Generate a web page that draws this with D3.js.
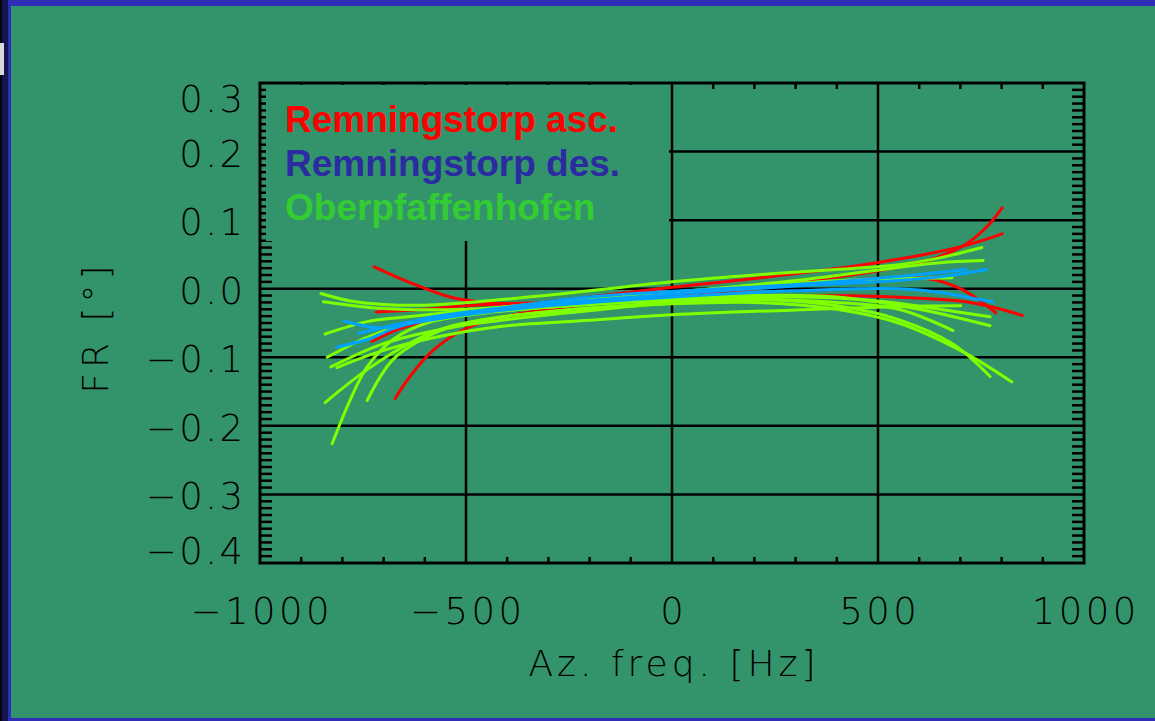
<!DOCTYPE html>
<html>
<head>
<meta charset="utf-8">
<script src="https://cdn.jsdelivr.net/npm/d3@7"></script>
<style>
  html, body { margin: 0; padding: 0; overflow: hidden; background: #2e2eb6; }
  svg { display: block; }
</style>
</head>
<body>
<svg id="chart" width="1155" height="721"></svg>
<script>
// Axis ticks
const xTicks = [-1000, -500, 0, 500, 1000];
const yTicks = [0.3, 0.2, 0.1, 0.0, -0.1, -0.2, -0.3, -0.4];
const xMinorStep = 100;
const yMinorStep = 0.01;

// Legend
const seriesNames = ["Remningstorp asc.", "Remningstorp des.", "Oberpfaffenhofen"];

// Residual curves, [azimuth frequency in Hz, FR in degrees]
const ascCurves = [
  [[-672,-0.160],[-636,-0.128],[-580,-0.090],[-500,-0.058],[-400,-0.040],[-200,-0.022],[0,-0.008],[200,0.005],[400,0.017],[536,0.030],[640,0.045],[716,0.066],[770,0.094],[801,0.118]],
  [[-723,0.032],[-636,0.009],[-539,-0.012],[-450,-0.020],[-300,-0.022],[-100,-0.016],[100,-0.006],[300,0.006],[500,0.014],[619,0.015],[700,0.000],[786,-0.035]],
  [[-718,-0.034],[-600,-0.030],[-498,-0.025],[-300,-0.020],[0,-0.014],[300,-0.010],[536,-0.012],[699,-0.018],[780,-0.027],[850,-0.039]],
  [[-728,-0.077],[-660,-0.058],[-560,-0.043],[-400,-0.027],[-200,-0.012],[0,0.002],[200,0.015],[498,0.038],[699,0.061],[801,0.080]]
];
const desCurves = [
  [[-796,-0.047],[-701,-0.057],[-580,-0.041],[-417,-0.028],[-200,-0.012],[0,-0.004],[300,0.006],[536,0.017],[714,0.028]],
  [[-813,-0.085],[-740,-0.074],[-660,-0.055],[-500,-0.038],[-300,-0.025],[0,-0.012],[300,-0.003],[550,0.000],[650,-0.005],[740,-0.015],[779,-0.019]],
  [[-760,-0.065],[-650,-0.050],[-500,-0.035],[-300,-0.022],[0,-0.008],[300,0.004],[550,0.012],[660,0.018],[764,0.028]]
];
const oberCurves = [
  [[-852,-0.007],[-780,-0.018],[-700,-0.023],[-600,-0.024],[-400,-0.015],[-200,-0.003],[0,0.010],[200,0.020],[400,0.028],[550,0.035],[650,0.045],[752,0.060]],
  [[-846,-0.019],[-700,-0.029],[-500,-0.030],[-300,-0.022],[0,-0.006],[300,0.012],[536,0.030],[650,0.038],[755,0.041]],
  [[-842,-0.066],[-740,-0.048],[-660,-0.042],[-500,-0.032],[-300,-0.020],[0,-0.005],[300,0.008],[500,0.014],[680,0.016]],
  [[-837,-0.100],[-740,-0.071],[-636,-0.050],[-500,-0.037],[-300,-0.027],[0,-0.015],[200,-0.010],[400,-0.012],[600,-0.030],[772,-0.054]],
  [[-828,-0.114],[-700,-0.080],[-550,-0.058],[-400,-0.045],[-200,-0.032],[0,-0.020],[300,-0.012],[500,-0.018],[650,-0.030],[772,-0.041]],
  [[-813,-0.115],[-700,-0.090],[-550,-0.068],[-417,-0.055],[-200,-0.046],[0,-0.038],[300,-0.031],[553,-0.026],[701,-0.025]],
  [[-842,-0.166],[-740,-0.118],[-619,-0.074],[-539,-0.055],[-400,-0.040],[-200,-0.030],[0,-0.022],[200,-0.020],[400,-0.030],[550,-0.050],[700,-0.090],[825,-0.136]],
  [[-825,-0.226],[-781,-0.162],[-740,-0.114],[-677,-0.074],[-595,-0.050],[-450,-0.035],[-250,-0.025],[0,-0.017],[200,-0.015],[400,-0.025],[550,-0.045],[680,-0.080],[772,-0.128]],
  [[-740,-0.163],[-677,-0.103],[-595,-0.070],[-532,-0.055],[-400,-0.040],[-200,-0.028],[0,-0.020],[200,-0.016],[400,-0.020],[550,-0.030],[682,-0.061]]
];

const W = 1155, H = 721;
const plot = { left: 260, right: 1084, top: 83, bottom: 563 };
const bg = "#33946b";
const axisFont = "'DejaVu Sans', sans-serif";

const svg = d3.select("#chart");

// Slide frame: dark strip at the far left, blue border, green panel
svg.append("rect").attr("x", 0).attr("y", 0).attr("width", W).attr("height", H).attr("fill", "#2e2eb6");
svg.append("rect").attr("x", 0).attr("y", 0).attr("width", 8).attr("height", H).attr("fill", "#141450");
svg.append("rect").attr("x", 0).attr("y", 0).attr("width", 2).attr("height", H).attr("fill", "#050510");
svg.append("rect").attr("x", 0).attr("y", 43).attr("width", 4).attr("height", 32).attr("fill", "#d8d8d8");
svg.append("rect").attr("x", 11).attr("y", 6).attr("width", W - 11).attr("height", H - 9).attr("fill", bg);

const x = d3.scaleLinear().domain([-1000, 1000]).range([plot.left, plot.right]);
const y = d3.scaleLinear().domain([-0.4, 0.3]).range([plot.bottom, plot.top]);

const g = svg.append("g");

// Full-length major ticks (grid)
g.append("g").selectAll("line").data(xTicks.slice(1, -1)).join("line")
  .attr("x1", d => x(d)).attr("x2", d => x(d))
  .attr("y1", plot.top).attr("y2", plot.bottom)
  .attr("stroke", "#000").attr("stroke-width", 2.5);
g.append("g").selectAll("line").data(yTicks.slice(1, -1)).join("line")
  .attr("x1", plot.left).attr("x2", plot.right)
  .attr("y1", d => y(d)).attr("y2", d => y(d))
  .attr("stroke", "#000").attr("stroke-width", 2.5);

// Minor ticks
const xMinor = d3.range(-1000, 1000 + 1, xMinorStep).filter(v => v % 500 !== 0);
const yMinor = d3.range(-40, 31).map(v => v * yMinorStep).filter(v => Math.round(v * 100) % 10 !== 0);
const minor = g.append("g").attr("stroke", "#000").attr("stroke-width", 2.5);
xMinor.forEach(v => {
  minor.append("line").attr("x1", x(v)).attr("x2", x(v)).attr("y1", plot.bottom).attr("y2", plot.bottom - 6);
  minor.append("line").attr("x1", x(v)).attr("x2", x(v)).attr("y1", plot.top).attr("y2", plot.top + 6);
});
yMinor.forEach(v => {
  minor.append("line").attr("x1", plot.left).attr("x2", plot.left + 12).attr("y1", y(v)).attr("y2", y(v));
  minor.append("line").attr("x1", plot.right).attr("x2", plot.right - 12).attr("y1", y(v)).attr("y2", y(v));
});

// Legend panel clears the grid underneath it
svg.append("rect")
  .attr("x", plot.left + 6).attr("y", plot.top + 2)
  .attr("width", x(0) - 3 - (plot.left + 6)).attr("height", 241 - (plot.top + 2))
  .attr("fill", bg);

// Curves
const line = d3.line().x(d => x(d[0])).y(d => y(d[1])).curve(d3.curveCatmullRom.alpha(0.5));
const curveLayer = svg.append("g").attr("fill", "none").attr("stroke-width", 3).attr("stroke-linecap", "round");
[[ascCurves, "#ff0000"], [oberCurves, "#80ff00"], [desCurves, "#00a2ff"]].forEach(([set, col]) => {
  curveLayer.append("g").selectAll("path").data(set).join("path")
    .attr("d", line).attr("stroke", col);
});

// Plot frame
svg.append("rect")
  .attr("x", plot.left).attr("y", plot.top)
  .attr("width", plot.right - plot.left).attr("height", plot.bottom - plot.top)
  .attr("fill", "none").attr("stroke", "#000").attr("stroke-width", 3);

// Tick labels
const fmtY = d => (d < -1e-9 ? "\u2212" : "") + Math.abs(d).toFixed(1);
const fmtX = d => (d < 0 ? "\u2212" : "") + Math.abs(d);
svg.append("g").selectAll("text").data(yTicks).join("text")
  .attr("x", 245.5)
  .attr("y", d => Math.min(Math.max(y(d) + 15, plot.top + 29), plot.bottom + 1))
  .attr("text-anchor", "end")
  .attr("font-family", axisFont).attr("font-size", 37).attr("font-weight", 200)
  .attr("letter-spacing", 2.5)
  .attr("fill", "#000")
  .text(fmtY);
svg.append("g").selectAll("text").data(xTicks).join("text")
  .attr("x", d => x(d) + 1.75).attr("y", 624)
  .attr("text-anchor", "middle")
  .attr("font-family", axisFont).attr("font-size", 37).attr("font-weight", 200)
  .attr("letter-spacing", 3.5)
  .attr("fill", "#000")
  .text(fmtX);

// Axis titles
svg.append("text")
  .attr("x", x(0) + 2).attr("y", 676)
  .attr("text-anchor", "middle")
  .attr("font-family", axisFont).attr("font-size", 36).attr("font-weight", 200)
  .attr("letter-spacing", 4)
  .attr("fill", "#000")
  .text("Az. freq. [Hz]");
svg.append("text")
  .attr("transform", `translate(108, ${(plot.top + plot.bottom) / 2 + 4}) rotate(-90)`)
  .attr("text-anchor", "middle")
  .attr("font-family", axisFont).attr("font-size", 36).attr("font-weight", 200)
  .attr("letter-spacing", 5)
  .attr("fill", "#000")
  .text("FR [\u00b0]");

// Legend text
const legendColors = ["#ff0000", "#2b2ba2", "#33cc33"];
svg.append("g").selectAll("text").data(seriesNames).join("text")
  .attr("x", 285).attr("y", (d, i) => 132 + i * 44)
  .attr("font-family", "'Liberation Sans', Arial, sans-serif")
  .attr("font-weight", "bold").attr("font-size", 37)
  .attr("fill", (d, i) => legendColors[i])
  .text(d => d);
</script>
</body>
</html>
